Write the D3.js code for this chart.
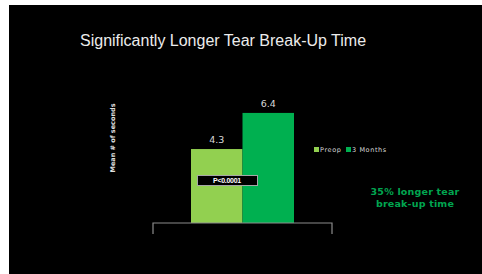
<!DOCTYPE html>
<html><head><meta charset="utf-8">
<script src="https://cdn.jsdelivr.net/npm/d3@7/dist/d3.min.js"></script>
<style>html,body{margin:0;padding:0;background:#fff;}svg{display:block;}</style>
</head><body>
<script>
const categories = [""];
const seriesNames = ["Preop", "3 Months"];
const seriesValues = [4.3, 6.4];
const seriesColors = ["#92d050", "#00b050"];
const yDomain = [0, 8];

const W = 482, H = 274;
const svg = d3.select("body").append("svg").attr("width", W).attr("height", H);
svg.append("rect").attr("x", 9).attr("y", 5).attr("width", W - 9).attr("height", H - 5).attr("fill", "#000");

svg.append("text").attr("x", 80).attr("y", 46).attr("fill", "#ececec")
  .attr("font-family", "Liberation Sans, Arial, sans-serif").attr("font-size", 16)
  .text("Significantly Longer Tear Break-Up Time");

const x0 = d3.scaleBand().domain(categories).range([153, 332]).paddingInner(0).paddingOuter(0);
const x1 = d3.scaleBand().domain(seriesNames).range([0, x0.bandwidth()]).paddingOuter(0.738).paddingInner(0);
const y = d3.scaleLinear().domain(yDomain).range([223, 85.4]);

const g = svg.append("g");
categories.forEach(c => {
  seriesNames.forEach((s, i) => {
    const bx = x0(c) + x1(s);
    g.append("rect").attr("x", bx).attr("y", y(seriesValues[i]))
      .attr("width", x1.bandwidth()).attr("height", y(0) - y(seriesValues[i]))
      .attr("fill", seriesColors[i]);
    g.append("text").attr("x", bx + x1.bandwidth() / 2).attr("y", y(seriesValues[i]) - 6)
      .attr("text-anchor", "middle").attr("fill", "#d9d9d9")
      .attr("font-family", "DejaVu Sans, sans-serif").attr("font-size", 9.5)
      .text(seriesValues[i].toFixed(1));
  });
});

// x axis
const axis = d3.axisBottom(x0).tickSize(0).tickFormat("");
const ag = svg.append("g").attr("transform", "translate(0,223)").call(axis);
ag.select(".domain").attr("stroke", "#8c8c8c").attr("stroke-width", 1.2)
  .attr("d", `M${x0.range()[0]},11V0H${x0.range()[1]}V11`);

// y axis title
svg.append("text").attr("transform", "translate(115,138) rotate(-90)")
  .attr("text-anchor", "middle").attr("fill", "#e0e0e0")
  .attr("font-family", "DejaVu Sans, sans-serif").attr("font-size", 6.5).attr("font-weight", "bold")
  .text("Mean # of seconds");

// p-value box
svg.append("rect").attr("x", 197.5).attr("y", 175.5).attr("width", 60).attr("height", 10)
  .attr("fill", "#000").attr("stroke", "#a6a6a6").attr("stroke-width", 1);
svg.append("text").attr("x", 227).attr("y", 182.5).attr("text-anchor", "middle").attr("fill", "#fff")
  .attr("font-family", "Liberation Sans, Arial, sans-serif").attr("font-size", 7).attr("font-weight", "bold")
  .attr("letter-spacing", -0.3)
  .text("P<0.0001");

// legend
const lg = svg.append("g");
const legX = [314, 346];
seriesNames.forEach((s, i) => {
  lg.append("rect").attr("x", legX[i]).attr("y", 147).attr("width", 5).attr("height", 5).attr("fill", seriesColors[i]);
  lg.append("text").attr("x", legX[i] + 6).attr("y", 152).attr("fill", "#d9d9d9")
    .attr("font-family", "DejaVu Sans, sans-serif").attr("font-size", 6.5).attr("letter-spacing", 0.6)
    .text(s);
});

// annotation
const ann = svg.append("text").attr("text-anchor", "middle").attr("fill", "#00a650")
  .attr("font-family", "DejaVu Sans, sans-serif").attr("font-size", 9.5).attr("font-weight", "bold")
  .attr("letter-spacing", 0.2);
ann.append("tspan").attr("x", 415).attr("y", 194.5).text("35% longer tear");
ann.append("tspan").attr("x", 415).attr("y", 207).text("break-up time");
</script>
</body></html>
